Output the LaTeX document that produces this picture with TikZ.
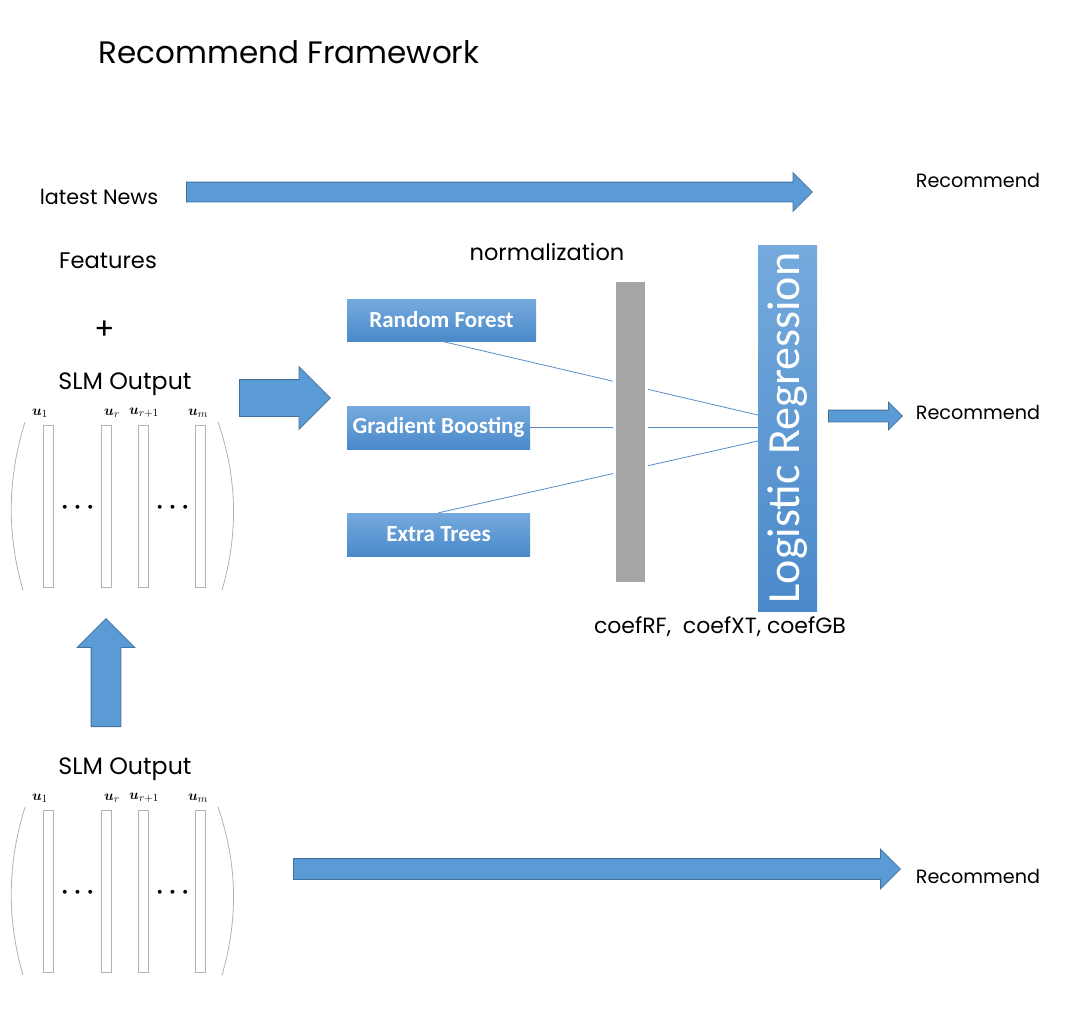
\documentclass[tikz,border=0pt]{standalone}
\usepackage{fontspec}
\usepackage{amsmath}
\setmainfont{Poppins}
\newfontfamily\boxfont{Carlito}
\usetikzlibrary{shapes.arrows,calc,positioning}

\definecolor{arrowblue}{HTML}{5B9BD5}
\definecolor{arrowedge}{HTML}{41719C}
\definecolor{boxtop}{HTML}{75AADD}
\definecolor{boxbottom}{HTML}{4A89CA}
\definecolor{linkblue}{HTML}{5A8CC4}
\definecolor{normgray}{HTML}{A6A6A6}

\tikzset{
  blockarrow/.style={single arrow, draw=arrowedge, fill=arrowblue, line width=0.8pt,
    single arrow head indent=0pt, anchor=tail},
  model/.style={rectangle, top color=boxtop, bottom color=boxbottom, inner sep=0pt,
    text=white, font=\boxfont\bfseries\fontsize{23}{26}\selectfont},
  txt/.style={inner sep=0pt, font=\fontsize{#1}{#1}\selectfont},
  txt/.default=21,
  link/.style={draw=linkblue, line width=0.8pt},
  ucol/.style={draw=gray!60, line width=0.8pt, inner sep=0pt},
  paren/.style={draw=gray!60, line width=0.8pt}
}

\begin{document}
\begin{tikzpicture}[x=1pt, y=-1pt]
  \useasboundingbox (0,0) rectangle (1076,1018);

  % texts
  \node[txt=31] (title) at (289,52) {Recommend Framework};
  \node[txt=20.7] (news) at (99,197) {latest News};
  \node[txt=22.6] (feat) at (108,261) {Features};
  \node[txt=30] (plus) at (105,330) {+};
  \node[txt=23.7] (slmtop) at (125,384) {SLM Output};
  \node[txt=23.7] (slmbot) at (125,769) {SLM Output};
  \node[txt=22.5] (norm) at (547,252) {normalization};
  \node[txt=22] (coef) at (720,627) {coefRF,\ \ coefXT, coefGB};
  \node[txt=19.2] (recnews) at (978,180) {Recommend};
  \node[txt=19.2] (recmodel) at (978,412) {Recommend};
  \node[txt=19.2] (recslm) at (978,876) {Recommend};

  % models
  \node[model, minimum width=189pt, minimum height=42pt] (rf) at (441.5,320) {Random Forest};
  \node[model, minimum width=183pt, minimum height=43pt] (gb) at (438.5,427.5) {Gradient Boosting};
  \node[model, minimum width=183pt, minimum height=43pt] (et) at (438.5,534.5) {Extra Trees};
  \node[rotate=90, top color=boxtop, bottom color=boxbottom, inner sep=0pt,
    minimum width=366pt, minimum height=59pt, text=white,
    font=\boxfont\fontsize{46}{46}\selectfont] (logreg) at (787.5,428) {Logistic Regression};

  % links
  \path[link] (rf.south) -- ($(logreg.north)+(0,-13)$);
  \path[link] (gb.east) -- (gb.east -| logreg.north);
  \path[link] (et.north) -- ($(logreg.north)+(0,13)$);

  \node[fill=normgray, inner sep=0pt, minimum width=29pt, minimum height=300pt,
    preaction={draw=white, line width=6pt}] (normbar) at (630.5,432) {};

  % block arrows
  \node[blockarrow, inner sep=9.5pt, minimum height=626pt, minimum width=38pt,
    single arrow head extend=9.5pt] (newsarrow) at (186,192) {};
  \node[blockarrow, inner sep=18pt, minimum height=91pt, minimum width=62pt,
    single arrow head extend=13pt] (slmarrow) at (239,398) {};
  \node[blockarrow, inner sep=5.5pt, minimum height=74pt, minimum width=27pt,
    single arrow head extend=8pt] (lrarrow) at (828,416) {};
  \node[blockarrow, inner sep=10pt, minimum height=607pt, minimum width=39pt,
    single arrow head extend=9.5pt] (botarrow) at (293,869) {};
  \node[blockarrow, inner sep=14.5pt, shape border rotate=90, minimum height=108pt,
    minimum width=57pt, single arrow head extend=14pt] (uparrow) at (106,727) {};

  % SLM matrices
  \def \Columns {
    1/48/40/{\boldsymbol{u}_1},
    2/106.5/112/{\boldsymbol{u}_r},
    3/143/144/{\boldsymbol{u}_{r+1}},
    4/200/198/{\boldsymbol{u}_m}}

  \foreach \dy / \tag in {0/top, 385/bot} {
    \begin{scope}[shift={(0,\dy)}]
      \foreach \id / \x / \lx / \u in \Columns {
        \node[ucol, minimum width=10pt, minimum height=162pt] (col\tag\id) at (\x,506) {};
        \node[inner sep=0pt, font=\fontsize{15}{15}\selectfont] (u\tag\id) at (\lx,413) {$\u$};
      }
      \node[inner sep=0pt, font=\fontsize{26}{26}\selectfont] (dots\tag a) at (80,508) {$\boldsymbol{\cdots}$};
      \node[inner sep=0pt, font=\fontsize{26}{26}\selectfont] (dots\tag b) at (175,508) {$\boldsymbol{\cdots}$};
      \draw[paren] (25,422) .. controls (7,480) and (7,535) .. (23,590);
      \draw[paren] (218,422) .. controls (238,480) and (238,535) .. (222,590);
    \end{scope}
  }
\end{tikzpicture}
\end{document}
